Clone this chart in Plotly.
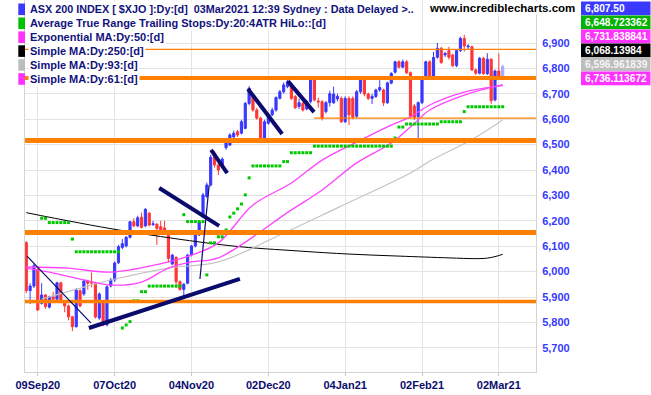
import plotly.graph_objects as go

# ---------------- data ----------------
bar_index = list(range(-3, 122))
opens = [6114, 5925, 5943, 6010, 5875, 5908, 5860, 5901, 5891, 5956, 5881, 5865, 5822, 5783, 5925, 5912, 5963, 5960,
         5954, 5817, 5876, 5790, 5943, 5967, 6035, 6095, 6101, 6135, 6196, 6180, 6214, 6180, 6230, 6185, 6187, 6177,
         6172, 6153, 6030, 6056, 5960, 5930, 5954, 6065, 6101, 6144, 6216, 6295, 6341, 6466, 6420, 6416, 6488, 6498,
         6530, 6551, 6545, 6564, 6662, 6689, 6636, 6604, 6518, 6584, 6617, 6636, 6682, 6708, 6728, 6728, 6690, 6650,
         6662, 6640, 6669, 6761, 6672, 6669, 6630, 6665, 6665, 6680, 6682, 6590, 6682, 6682, 6612, 6708, 6757, 6699,
         6682, 6689, 6715, 6715, 6665, 6742, 6785, 6826, 6805, 6826, 6783, 6652, 6610, 6665, 6763, 6826, 6770, 6844,
         6879, 6853, 6870, 6853, 6811, 6870, 6918, 6885, 6885, 6794, 6781, 6840, 6779, 6836, 6676, 6790, 6763]
highs = [6120, 5954, 6030, 6020, 5954, 5912, 5905, 5920, 5960, 5960, 5885, 5870, 5826, 5935, 5930, 5968, 5968, 5996,
         5960, 5918, 5880, 5945, 5975, 6040, 6105, 6128, 6140, 6200, 6210, 6220, 6232, 6250, 6235, 6200, 6190, 6200,
         6200, 6160, 6070, 6060, 5965, 5955, 6070, 6105, 6150, 6200, 6310, 6350, 6460, 6475, 6430, 6450, 6522, 6545,
         6555, 6558, 6598, 6668, 6730, 6700, 6645, 6610, 6598, 6625, 6645, 6690, 6715, 6745, 6756, 6735, 6695, 6680,
         6668, 6676, 6768, 6765, 6685, 6675, 6672, 6712, 6728, 6700, 6690, 6690, 6690, 6690, 6715, 6765, 6762, 6705,
         6700, 6720, 6754, 6720, 6748, 6785, 6830, 6832, 6835, 6832, 6788, 6660, 6670, 6768, 6830, 6832, 6865, 6900,
         6885, 6865, 6885, 6858, 6875, 6925, 6932, 6895, 6890, 6800, 6845, 6845, 6860, 6840, 6795, 6859, 6815]
lows = [5915, 5872, 5935, 5845, 5870, 5853, 5855, 5880, 5885, 5875, 5840, 5808, 5766, 5780, 5860, 5905, 5929, 5938,
        5815, 5810, 5785, 5785, 5938, 5960, 6030, 6088, 6095, 6130, 6175, 6175, 6170, 6175, 6178, 6180, 6105, 6150,
        6150, 6036, 6025, 5936, 5925, 5896, 5950, 6060, 6095, 6140, 6210, 6290, 6335, 6410, 6380, 6405, 6480, 6495,
        6525, 6530, 6540, 6560, 6655, 6630, 6598, 6512, 6512, 6578, 6612, 6630, 6678, 6700, 6722, 6675, 6640, 6640,
        6630, 6635, 6662, 6670, 6645, 6595, 6622, 6650, 6660, 6670, 6585, 6585, 6577, 6600, 6605, 6700, 6690, 6675,
        6660, 6684, 6708, 6652, 6660, 6738, 6780, 6800, 6800, 6778, 6605, 6597, 6522, 6660, 6758, 6760, 6765, 6838,
        6818, 6845, 6835, 6805, 6805, 6865, 6866, 6875, 6790, 6775, 6776, 6775, 6774, 6660, 6670, 6758, 6758]
closes = [5925, 5943, 6023, 5849, 5908, 5862, 5901, 5891, 5956, 5881, 5865, 5822, 5783, 5928, 5865, 5963, 5954, 5955,
          5821, 5912, 5790, 5940, 5967, 6034, 6098, 6110, 6135, 6196, 6180, 6212, 6174, 6245, 6183, 6188, 6170, 6160,
          6160, 6052, 6065, 5960, 5930, 5950, 6065, 6101, 6144, 6196, 6302, 6341, 6450, 6420, 6400, 6443, 6518, 6538,
          6545, 6538, 6590, 6662, 6722, 6636, 6604, 6518, 6590, 6617, 6636, 6685, 6708, 6735, 6748, 6682, 6645, 6665,
          6636, 6670, 6761, 6676, 6668, 6604, 6665, 6700, 6699, 6690, 6590, 6682, 6617, 6607, 6708, 6757, 6699, 6682,
          6690, 6715, 6725, 6665, 6743, 6780, 6826, 6805, 6826, 6783, 6612, 6607, 6665, 6763, 6826, 6763, 6843, 6879,
          6823, 6859, 6844, 6811, 6870, 6918, 6888, 6888, 6794, 6781, 6840, 6779, 6836, 6673, 6790, 6763, 6807.5]

tick_index = [0, 20, 40, 60, 80, 100, 120]
tick_labels = ['09Sep20', '07Oct20', '04Nov20', '02Dec20', '04Jan21', '02Feb21', '02Mar21']
price_ticks = [5700, 5800, 5900, 6000, 6100, 6200, 6300, 6400, 6500, 6600, 6700, 6800, 6900]

# ATR trailing stop (one value per bar, None = no dot)
atr_stop = ([5882] * 3 + [None] + [6210] * 2 + [6193] * 6 + [6128] + [6078] * 12 + [5778, 5790, 5803]
            + [5885] * 2 + [5921] * 2 + [5943] * 9 + [6224] + [6197] * 5 + [5987] + [6113] * 2 + [6137] * 2
            + [6164, 6215, 6230, 6247, 6266, 6302, 6369] + [6416] * 8 + [6433] * 2 + [6468] * 6 + [6494] * 21
            + [6526] + [6569] * 2 + [6581] * 9 + [6590] * 6 + [6630] + [6649] * 10)

ema50_idx = [-3, 8, 19, 34, 40, 47, 56, 66, 74, 83, 92, 97, 102, 111, 121]
ema50_val = [6018, 6014, 5998, 6038, 6065, 6113, 6262, 6349, 6439, 6510, 6577, 6609, 6656, 6707, 6732]
sma61_idx = [-3, 3, 12, 19, 27, 34, 40, 47, 66, 74, 83, 92, 97, 102, 111, 121]
sma61_val = [6014, 5998, 5967, 5947, 5959, 6014, 6038, 6054, 6243, 6321, 6428, 6506, 6569, 6636, 6695, 6736]
sma93_idx = [1, 12, 19, 34, 47, 63, 78, 97, 103, 113, 121]
sma93_val = [5892, 5939, 5967, 6014, 6038, 6144, 6251, 6388, 6443, 6520, 6597]
sma250_idx = [-3, 21, 50, 68, 81, 94, 107, 114, 117, 119, 121]
sma250_val = [6232, 6164, 6102, 6081, 6069, 6061, 6054, 6051, 6053, 6059, 6068]

# horizontal support / resistance levels: price, start bar
level_price = [6875, 6762, 6604, 6516, 6154, 5882]
level_start = [-4, -4, 71.9, -4, -4, -4]
level_width = [1.3, 4, 1.3, 5, 5, 3.5]

# drawn trend lines (bar, price) -> (bar, price)
trend_x0 = [13.3, -2.8, 31.6, 42.2, 45.1, 54.7, 65.1]
trend_y0 = [5778, 6061, 6329, 5971, 6479, 6719, 6750]
trend_x1 = [52.6, 13.8, 47.2, 44.6, 49.3, 63.6, 71.9]
trend_y1 = [5971, 5798, 6180, 6340, 6388, 6542, 6628]
trend_w = [4, 1.2, 4, 1.2, 4, 4, 4]

legend_labels = ['ASX 200 INDEX [ $XJO ]:Dy:[d]\u00a0\u00a003Mar2021 12:39 Sydney : Data Delayed >..',
                 'Average True Range Trailing Stops:Dy:20:4ATR HiLo::[d]',
                 'Exponential MA:Dy:50:[d]', 'Simple MA:Dy:250:[d]', 'Simple MA:Dy:93:[d]', 'Simple MA:Dy:61:[d]']
legend_colors = ['#3a3aff', '#00c000', '#ff33ff', '#000000', '#bdbdbd', '#ff33ff']
value_labels = ['6,807.50', '6,648.723362', '6,731.838841', '6,068.13984', '6,596.961839', '6,736.113672']
value_colors = ['#3a3aff', '#00b400', '#ff33ff', '#000000', '#bdbdbd', '#ff33ff']

# ---------------- layout geometry ----------------
W, H = 651, 395
ML, MR, MT, MB = 25, 115, 0, 23
PW, PH = W - ML - MR, H - MT - MB


def pxx(px):
    return (px - ML) / PW


def pyy(py):
    return (H - MB - py) / PH


BLUE = '#3838ff'
RED = '#ff3535'
FONT = 'Liberation Sans'

fig = go.Figure()

n_main = len(bar_index) - 1
fig.add_trace(go.Candlestick(
    x=bar_index[:n_main], open=opens[:n_main], high=highs[:n_main], low=lows[:n_main], close=closes[:n_main],
    increasing=dict(line=dict(color=BLUE, width=1), fillcolor=BLUE),
    decreasing=dict(line=dict(color=RED, width=1), fillcolor=RED),
    whiskerwidth=0, showlegend=False, hoverinfo='skip'))
fig.add_trace(go.Candlestick(
    x=bar_index[n_main:], open=opens[n_main:], high=highs[n_main:], low=lows[n_main:], close=closes[n_main:],
    increasing=dict(line=dict(color='#a8a8ff', width=1), fillcolor='#a8a8ff'),
    decreasing=dict(line=dict(color='#a8a8ff', width=1), fillcolor='#a8a8ff'),
    whiskerwidth=0, showlegend=False, hoverinfo='skip'))

fig.add_trace(go.Scatter(x=sma250_idx, y=sma250_val, mode='lines', line=dict(color='#000000', width=1, shape='spline'),
                         showlegend=False, hoverinfo='skip'))
fig.add_trace(go.Scatter(x=sma93_idx, y=sma93_val, mode='lines', line=dict(color='#c4c4c4', width=1.2, shape='spline'),
                         showlegend=False, hoverinfo='skip'))
fig.add_trace(go.Scatter(x=sma61_idx, y=sma61_val, mode='lines', line=dict(color='#ff44ff', width=1.3, shape='spline'),
                         showlegend=False, hoverinfo='skip'))
fig.add_trace(go.Scatter(x=ema50_idx, y=ema50_val, mode='lines', line=dict(color='#ff44ff', width=1.3, shape='spline'),
                         showlegend=False, hoverinfo='skip'))
fig.add_trace(go.Scatter(x=bar_index, y=atr_stop, mode='markers',
                         marker=dict(symbol='square', size=3, color='#00c800', line=dict(width=0)),
                         showlegend=False, hoverinfo='skip'))

shapes = []
for p, s, w in zip(level_price, level_start, level_width):
    shapes.append(dict(type='line', xref='x', yref='y', x0=s, x1=140, y0=p, y1=p,
                       line=dict(color='#ff8000', width=w), layer='above'))
for x0, y0, x1, y1, w in zip(trend_x0, trend_y0, trend_x1, trend_y1, trend_w):
    shapes.append(dict(type='line', xref='x', yref='y', x0=x0, y0=y0, x1=x1, y1=y1,
                       line=dict(color='#0b0b6e', width=w), layer='above'))

annotations = []
row_y = [9.3, 23.3, 37.2, 51.1, 65, 79]
for i, (lab, col) in enumerate(zip(legend_labels, legend_colors)):
    cy = row_y[i]
    shapes.append(dict(type='rect', xref='paper', yref='paper', x0=pxx(18.3), x1=pxx(25), y0=pyy(cy - 5.8),
                       y1=pyy(cy + 5.8), fillcolor=col, line=dict(width=0), layer='above'))
    annotations.append(dict(xref='paper', yref='paper', x=pxx(28), y=pyy(cy), xanchor='left', yanchor='middle',
                            text=lab, showarrow=False, bgcolor='white', borderpad=1,
                            font=dict(family=FONT, size=10.8 if i == 0 else 11, color='#12127c', weight='bold')))

annotations.append(dict(xref='paper', yref='paper', x=pxx(428), y=pyy(8.3), xanchor='left', yanchor='middle',
                        text='www.incrediblecharts.com', showarrow=False, bgcolor='white', borderpad=0,
                        font=dict(family=FONT, size=11.5, color='#000000', weight='bold')))

for i, (lab, col) in enumerate(zip(value_labels, value_colors)):
    y0 = 1.6 + 14 * i
    shapes.append(dict(type='rect', xref='paper', yref='paper', x0=pxx(581), x1=pxx(650.5), y0=pyy(y0),
                       y1=pyy(y0 + 13.6), fillcolor=col, line=dict(width=0), layer='above'))
    annotations.append(dict(xref='paper', yref='paper', x=pxx(582.5), y=pyy(y0 + 6.8), xanchor='left',
                            yanchor='middle', text=lab, showarrow=False,
                            font=dict(family=FONT, size=10.2, color='#ffffff' if i != 4 else '#f4f4f4', weight='bold')))

fig.update_layout(
    width=W, height=H, margin=dict(l=ML, r=MR, t=MT, b=MB, pad=0),
    paper_bgcolor='white', plot_bgcolor='white', boxgap=0.2,
    shapes=shapes, annotations=annotations, showlegend=False,
    xaxis=dict(range=[(ML - 37.8) / 3.842, (W - MR - 37.8) / 3.842], tickvals=tick_index, ticktext=tick_labels,
               showgrid=True, gridcolor='#e3e3e3', gridwidth=1, zeroline=False, rangeslider=dict(visible=False),
               showline=True, linecolor='#d4d4d4', mirror=True, ticks='outside', ticklen=3, tickcolor='#c8c8c8',
               tickfont=dict(family=FONT, size=11, color='#0c0c6e', weight='bold')),
    yaxis=dict(range=[5604.7, 7069.3], side='right', tickvals=price_ticks,
               ticktext=[f'{v:,}' for v in price_ticks], showgrid=True, gridcolor='#e3e3e3', gridwidth=1,
               zeroline=False, showline=True, linecolor='#d4d4d4', mirror=True, ticks='outside', ticklen=3,
               tickcolor='rgba(0,0,0,0)',
               tickfont=dict(family=FONT, size=11, color=BLUE, weight='bold')),
)

fig.write_html('out.html')
